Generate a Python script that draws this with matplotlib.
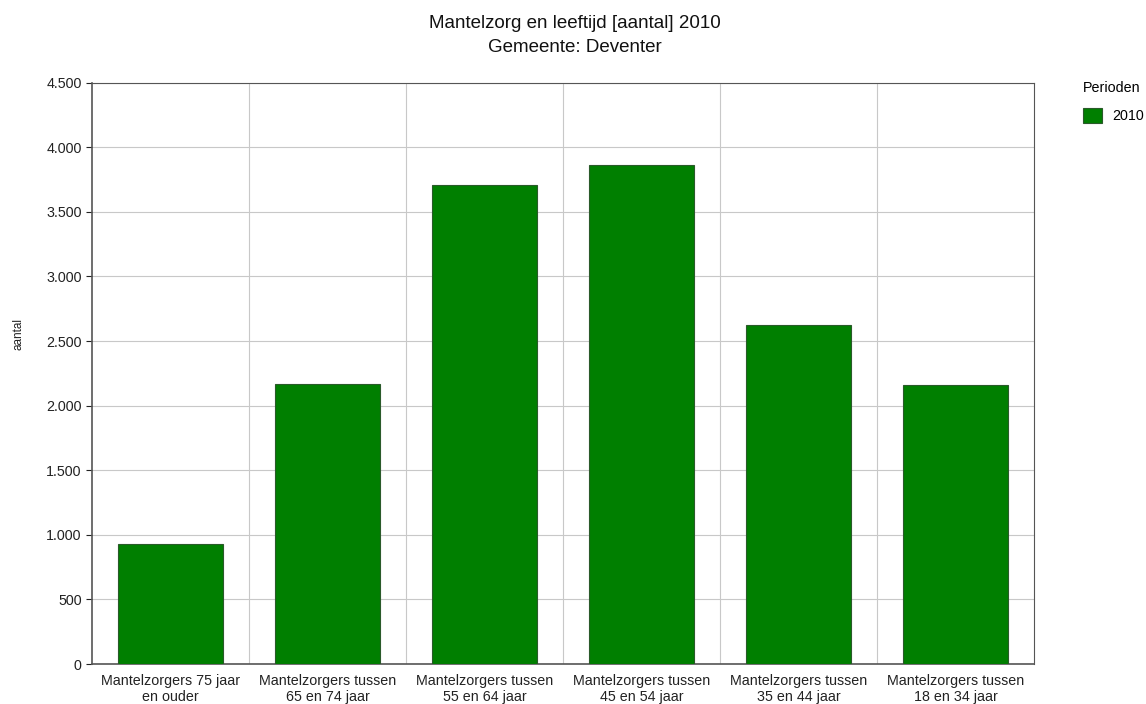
import matplotlib
matplotlib.use('Agg')
import matplotlib.pyplot as plt
from matplotlib.ticker import FuncFormatter

plt.rcParams['font.family'] = ['Liberation Sans', 'DejaVu Sans']

categories = [
    "Mantelzorgers 75 jaar\nen ouder",
    "Mantelzorgers tussen\n65 en 74 jaar",
    "Mantelzorgers tussen\n55 en 64 jaar",
    "Mantelzorgers tussen\n45 en 54 jaar",
    "Mantelzorgers tussen\n35 en 44 jaar",
    "Mantelzorgers tussen\n18 en 34 jaar",
]
values_2010 = [926, 2165, 3710, 3865, 2627, 2162]
series_name = "2010"

fig = plt.figure(figsize=(11.46, 7.04), dpi=100)
ax = fig.add_axes([0.0803, 0.0568, 0.8220, 0.8257])

x = range(len(categories))
ax.bar(x, values_2010, width=0.67, color='#007f00', edgecolor='#2a5a2a',
       linewidth=0.8, label=series_name, zorder=3)

ax.set_xlim(-0.5, len(categories) - 0.5)
ax.set_ylim(0, 4500)
ax.set_yticks(range(0, 4501, 500))
ax.yaxis.set_major_formatter(FuncFormatter(lambda v, p: f"{int(v):,}".replace(",", ".")))

ax.set_xticks(x)
ax.set_xticklabels(categories, fontsize=10.3, color='#222222', linespacing=1.25)
ax.set_xticks([i + 0.5 for i in range(len(categories) - 1)], minor=True)
ax.tick_params(axis='x', which='major', length=0, pad=7)
ax.tick_params(axis='x', which='minor', length=0)
ax.tick_params(axis='y', labelsize=10.3, colors='#222222', length=4, width=0.8)

ax.grid(True, axis='y', color='#c8c8c8', linewidth=0.8, zorder=0)
ax.grid(True, axis='x', which='minor', color='#c8c8c8', linewidth=0.8, zorder=0)

for side in ['left', 'bottom']:
    ax.spines[side].set_color('#555555')
    ax.spines[side].set_linewidth(1.2)
for side in ['top', 'right']:
    ax.spines[side].set_color('#555555')
    ax.spines[side].set_linewidth(0.8)

fig.text(0.016, 0.525, "aantal", rotation=90, fontsize=8.5, color='#222222',
         ha='center', va='center')

fig.text(0.502, 0.966, "Mantelzorg en leeftijd [aantal] 2010", fontsize=13.5,
         ha='center', va='center', color='#111111')
fig.text(0.502, 0.933, "Gemeente: Deventer", fontsize=13.5,
         ha='center', va='center', color='#111111')

leg = fig.legend(loc='upper left', bbox_to_anchor=(0.934, 0.903), frameon=False,
                 title="Perioden", fontsize=10.3, title_fontsize=10.3,
                 handlelength=1.3, handleheight=1.3, handletextpad=0.7,
                 labelspacing=0.6)
leg._legend_box.align = "left"
leg._legend_box.sep = 9

fig.savefig("out.png", dpi=100)
